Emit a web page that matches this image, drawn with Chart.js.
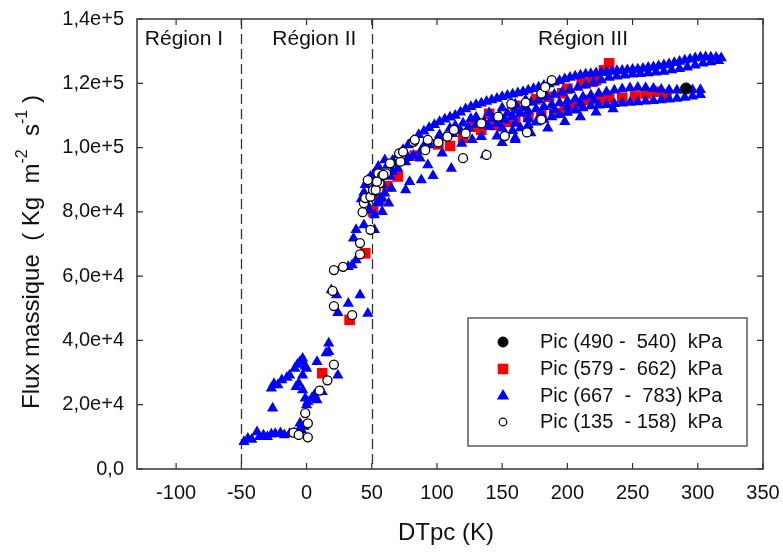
<!DOCTYPE html>
<html>
<head>
<meta charset="utf-8">
<script src="https://cdn.jsdelivr.net/npm/chart.js@4.4.1/dist/chart.umd.min.js"></script>
<style>
  body { margin: 0; background: #fff; }
  #wrap { width: 783px; height: 552px; position: relative; }
</style>
</head>
<body>
<div id="wrap"><canvas id="flux-chart"></canvas></div>
<script>
// axis ticks and labels
const xTicks = [-100, -50, 0, 50, 100, 150, 200, 250, 300, 350];
const yTicks = [0, 20000, 40000, 60000, 80000, 100000, 120000, 140000];
const yTickLabels = ['0,0', '2,0e+4', '4,0e+4', '6,0e+4', '8,0e+4', '1,0e+5', '1,2e+5', '1,4e+5'];
const regionBounds = [-50, 50];
const regionNames = ['Région I', 'Région II', 'Région III'];
const regionNameX = [-94, 6, 212];
const legendLabels = ['Pic (490 -  540)  kPa', 'Pic (579 -  662)  kPa', 'Pic (667  -  783) kPa', 'Pic (135  - 158)  kPa'];

// [DTpc, flux] pairs
const peak490 = [[291, 118400]];

const peak579 = [
  [12, 29800], [33, 46400], [45, 67100], [51, 80100], [56, 84000], [62, 88000], [70, 91000],
  [83, 97500], [101, 101000], [110, 100500], [120, 103000], [127, 106500], [134, 105500],
  [145, 107000], [155, 108000], [160, 108600], [170, 109500], [180, 110000], [190, 110700],
  [198, 111700], [206, 112700], [216, 114800], [224, 115000], [232, 115300], [242, 115500],
  [252, 115900], [260, 116800], [268, 117400], [276, 116500],
  [140, 110500], [160, 113000], [176, 115000], [186, 115800], [196, 116900], [200, 118300],
  [211, 120000], [219, 120500], [222, 121000], [228, 124000], [232, 126200]
];

const peak667 = [
  // region I / II, low flux
  [-48, 8500], [-45, 9500], [-42, 9200], [-38, 11500], [-36, 10000], [-33, 10500], [-30, 10000],
  [-27, 10800], [-24, 11000], [-20, 11200], [-17, 10600], [-13, 11000], [-9, 11100], [-6, 12000],
  [-4, 12200], [-2, 13200], [-5, 14200],
  [-26, 18900], [-27, 25100], [-25, 26500], [-22, 26100], [-19, 27700], [-15, 28500], [-13, 29200],
  [-9, 31300], [-7, 32500], [-5, 33400], [-3, 34400], [-1, 32000], [0, 31300], [-3, 29200],
  [-6, 26700], [-8, 25600], [-3, 24600], [-1, 22000], [1, 20900], [0, 19900], [4, 22000],
  [8, 21500], [6, 23000], [12, 24000], [8, 33400], [15, 36100], [17, 36500], [17, 39100], [24, 29200],
  // region II, middle
  [19, 55700], [23, 54100], [41, 54100], [32, 51500], [24, 48600], [47, 48400],
  [32, 62900], [35, 63500], [38, 65000], [36, 71800], [38, 74400], [44, 75900], [52, 74400],
  [45, 88400], [47, 89900], [52, 92000], [55, 94100], [60, 96100], [50, 85800], [55, 82700],
  [60, 85800], [63, 82700], [46, 82700], [42, 84000], [44, 86000], [48, 80500], [52, 79000],
  [58, 80000], [57, 84200], [55, 83200], [49, 91000], [53, 89000],
  // region III, upper band
  [62, 94500], [66, 96000], [70, 97800], [74, 99300], [78, 100800], [82, 102300], [86, 104000],
  [90, 105100], [94, 106200], [98, 107100], [102, 108000], [106, 108800], [110, 109400],
  [114, 110000], [118, 111000], [122, 112000], [126, 112700], [130, 113300], [134, 113800],
  [138, 114300], [142, 114800], [146, 115300], [150, 115800], [154, 116200], [158, 116600],
  [162, 117000], [166, 117400], [170, 117800], [174, 118300], [178, 118800], [182, 119300],
  [186, 119800], [190, 120300], [194, 120800], [198, 121300], [202, 121800], [206, 122200],
  [210, 122500], [214, 122800], [218, 123000], [222, 123200], [226, 123300], [230, 123500],
  [234, 123700], [238, 123900], [242, 124000], [246, 124100], [250, 124300], [254, 124400],
  [258, 124600], [262, 124900], [266, 125100], [270, 125400], [274, 125700], [278, 126000],
  [282, 126400], [286, 126800], [290, 127200], [294, 127500], [298, 127900], [302, 128100],
  [306, 128200], [310, 128100], [314, 128000], [318, 127900],
  [58, 88500], [64, 91000], [70, 93500], [76, 95500], [82, 97500], [88, 99200], [94, 100800],
  [100, 102000], [106, 103200], [112, 104300], [118, 105300], [124, 106200], [130, 107200],
  [136, 108100], [142, 109000], [148, 109900], [154, 110700], [160, 111500], [166, 112300],
  [172, 114000], [178, 114900], [184, 115700], [190, 116500], [196, 117200], [202, 118000],
  [208, 118700], [214, 119400], [220, 120200], [226, 121000], [232, 121800], [238, 122200],
  [244, 122500], [250, 122800], [256, 123000], [262, 123200], [268, 123400], [274, 123700],
  [280, 124100], [286, 124500], [292, 125000], [298, 125600], [304, 126200], [310, 126600], [316, 127000],
  [110, 106000], [120, 107600], [130, 109400], [140, 110800], [150, 112300], [160, 113500], [168, 114800],
  [66, 92500], [78, 96800], [90, 100600], [102, 104000], [114, 106800], [126, 109000],
  // region III, lower band
  [140, 106500], [146, 107500], [152, 108600], [158, 109600], [164, 110600], [170, 111300],
  [176, 112000], [182, 112700], [188, 113300], [194, 113900], [200, 114500], [206, 115100],
  [212, 115700], [218, 116300], [224, 116800], [230, 117300], [236, 117800], [242, 118200],
  [248, 118500], [254, 118700], [260, 118600], [266, 118400], [272, 118100], [278, 117900],
  [284, 117800], [290, 117800], [296, 117900], [302, 118000],
  [150, 106000], [160, 107500], [170, 109000], [180, 110500], [190, 111800], [200, 112800],
  [210, 113800], [220, 114800],
  [146, 103500], [152, 104300], [158, 105200], [164, 106100], [170, 107000], [176, 107900],
  [182, 108700], [188, 109500], [194, 110200], [200, 110900], [206, 111600], [212, 112300],
  [218, 112900], [224, 113200], [230, 113300], [236, 113600], [242, 113800], [248, 114000],
  [254, 114200], [260, 114400], [266, 114600], [272, 114800], [278, 115000], [284, 115300],
  [290, 115600], [296, 116000], [302, 116400],
  [150, 101500], [160, 103000], [172, 104500], [185, 106000], [198, 108000], [210, 109500],
  [222, 111000], [235, 112000],
  // region III, scattered low points
  [55, 83200], [58, 84200], [65, 87300], [76, 86800], [79, 89400], [88, 89900], [97, 91200],
  [111, 93500], [87, 96700], [93, 94600], [104, 98200], [119, 101300], [127, 102400],
  [134, 103400], [137, 97700], [160, 102400]
];

const peak135 = [
  [-10, 11300], [-6, 10600], [1, 9850], [1, 14200], [-1, 17400], [10, 24400], [16, 27600], [21, 32500],
  [35, 47900], [21, 50700], [20, 55400], [21, 61900], [28, 62900], [41, 66800], [41, 70300],
  [49, 74400], [43, 79900], [44, 82700], [45, 84300], [49, 84700], [47, 89900], [51, 86800],
  [56, 88900], [55, 92000], [58, 91200], [61, 92000], [65, 95100], [53, 86800], [54, 89400],
  [59, 91500], [64, 95100], [72, 95600], [71, 98200], [74, 98700], [82, 101800], [83, 102400],
  [91, 99200], [93, 102400], [101, 101600], [108, 103400], [113, 105500], [122, 104400],
  [120, 96700], [134, 107500], [138, 97700], [147, 109600], [152, 103600], [157, 113600],
  [168, 114000], [169, 104700], [180, 108700], [180, 116800], [183, 118800], [188, 121000]
];

const FONT = "'Liberation Sans', Arial, sans-serif";
const toXY = arr => arr.map(p => ({ x: p[0], y: p[1] }));

const decor = {
  id: 'decor',
  beforeDatasetsDraw(chart) {
    const { ctx, chartArea: a, scales: { x, y } } = chart;
    ctx.save();
    ctx.strokeStyle = '#333';
    ctx.lineWidth = 1.3;
    ctx.setLineDash([10, 5]);
    regionBounds.forEach(v => {
      const px = Math.round(x.getPixelForValue(v)) + 0.5;
      ctx.beginPath();
      ctx.moveTo(px, a.top);
      ctx.lineTo(px, a.bottom);
      ctx.stroke();
    });
    ctx.setLineDash([]);
    ctx.fillStyle = '#111';
    ctx.font = '21px ' + FONT;
    ctx.textAlign = 'center';
    ctx.textBaseline = 'middle';
    regionNames.forEach((t, i) => {
      ctx.fillText(t, x.getPixelForValue(regionNameX[i]), a.top + 20);
    });
    ctx.restore();
  },
  afterDatasetsDraw(chart) {
    const { ctx, chartArea: a, scales: { x, y } } = chart;
    ctx.save();
    // frame + inward ticks
    ctx.strokeStyle = '#333';
    ctx.lineWidth = 1.5;
    ctx.strokeRect(a.left, a.top, a.right - a.left, a.bottom - a.top);
    ctx.lineWidth = 1.2;
    ctx.beginPath();
    xTicks.forEach(v => {
      const px = x.getPixelForValue(v);
      ctx.moveTo(px, a.bottom); ctx.lineTo(px, a.bottom - 6);
      ctx.moveTo(px, a.top); ctx.lineTo(px, a.top + 6);
    });
    yTicks.forEach(v => {
      const py = y.getPixelForValue(v);
      ctx.moveTo(a.left, py); ctx.lineTo(a.left + 6, py);
      ctx.moveTo(a.right, py); ctx.lineTo(a.right - 6, py);
    });
    ctx.stroke();

    // legend box
    const bx = a.right - 295, by = a.bottom - 151, bw = 279, bh = 128;
    ctx.lineWidth = 1.2;
    ctx.strokeStyle = '#333';
    ctx.fillStyle = '#fff';
    ctx.fillRect(bx, by, bw, bh);
    ctx.strokeRect(bx, by, bw, bh);
    const rows = [24, 51, 78, 104];
    const markers = [
      { pointStyle: 'circle', radius: 5, backgroundColor: '#000', borderColor: '#000', borderWidth: 1 },
      { pointStyle: 'rect', radius: 7.5, backgroundColor: '#ff0000', borderColor: '#ff0000', borderWidth: 0 },
      { pointStyle: 'triangle', radius: 7, backgroundColor: '#0000ff', borderColor: '#0000ff', borderWidth: 0 },
      { pointStyle: 'circle', radius: 3.8, backgroundColor: '#fff', borderColor: '#000', borderWidth: 1.2 }
    ];
    ctx.font = '20px ' + FONT;
    ctx.textAlign = 'left';
    ctx.textBaseline = 'middle';
    legendLabels.forEach((t, i) => {
      const m = markers[i];
      ctx.fillStyle = m.backgroundColor;
      ctx.strokeStyle = m.borderColor;
      ctx.lineWidth = m.borderWidth;
      Chart.helpers.drawPoint(ctx, m, bx + 35, by + rows[i]);
      ctx.fillStyle = '#111';
      ctx.fillText(t, bx + 72, by + rows[i]);
    });

    // x title
    ctx.font = '24px ' + FONT;
    ctx.textAlign = 'center';
    ctx.fillText('DTpc (K)', (a.left + a.right) / 2 - 4, 533);

    // y title with superscripts
    const parts = [['Flux massique  ( Kg  m', 0], ['-2', 1], ['  s', 0], ['-1', 1], [' )', 0]];
    const big = '24px ' + FONT, small = '16px ' + FONT;
    let total = 0;
    parts.forEach(p => { ctx.font = p[1] ? small : big; total += ctx.measureText(p[0]).width; });
    ctx.translate(32, 252);
    ctx.rotate(-Math.PI / 2);
    ctx.textAlign = 'left';
    let cx = -total / 2;
    parts.forEach(p => {
      ctx.font = p[1] ? small : big;
      ctx.fillText(p[0], cx, p[1] ? -9 : 0);
      cx += ctx.measureText(p[0]).width;
    });
    ctx.restore();
  }
};

const tickFont = { family: FONT, size: 20 };

new Chart(document.getElementById('flux-chart').getContext('2d'), {
  type: 'scatter',
  data: {
    datasets: [
      { label: legendLabels[0], data: toXY(peak490), pointStyle: 'circle', pointRadius: 5.5,
        backgroundColor: '#000', borderColor: '#000', borderWidth: 1, order: 1 },
      { label: legendLabels[1], data: toXY(peak579), pointStyle: 'rect', pointRadius: 7.5,
        backgroundColor: '#ff0000', borderColor: '#ff0000', borderWidth: 0, order: 3 },
      { label: legendLabels[2], data: toXY(peak667), pointStyle: 'triangle', pointRadius: 6.5,
        backgroundColor: '#0000ff', borderColor: '#0000ff', borderWidth: 0, order: 2 },
      { label: legendLabels[3], data: toXY(peak135), pointStyle: 'circle', pointRadius: 4.5,
        backgroundColor: '#fff', borderColor: '#000', borderWidth: 1.3, order: 0 }
    ]
  },
  options: {
    responsive: true,
    maintainAspectRatio: false,
    animation: false,
    layout: { padding: { top: 19, right: 20, left: 0, bottom: 0 } },
    plugins: { legend: { display: false }, tooltip: { enabled: false } },
    scales: {
      x: {
        type: 'linear', min: -130, max: 350,
        grid: { display: false, drawTicks: false },
        border: { display: false },
        afterBuildTicks: s => { s.ticks = xTicks.map(v => ({ value: v })); },
        afterFit: s => { s.height = 83; s.paddingLeft = 0; s.paddingRight = 0; },
        ticks: { padding: 12, color: '#111', font: tickFont, maxRotation: 0, autoSkip: false }
      },
      y: {
        type: 'linear', min: 0, max: 140000,
        grid: { display: false, drawTicks: false },
        border: { display: false },
        afterBuildTicks: s => { s.ticks = yTicks.map(v => ({ value: v })); },
        afterFit: s => { s.width = 137; s.paddingTop = 0; s.paddingBottom = 0; },
        ticks: { padding: 13, color: '#111', font: tickFont, autoSkip: false,
          callback: v => yTickLabels[yTicks.indexOf(v)] }
      }
    }
  },
  plugins: [decor]
});
</script>
</body>
</html>
